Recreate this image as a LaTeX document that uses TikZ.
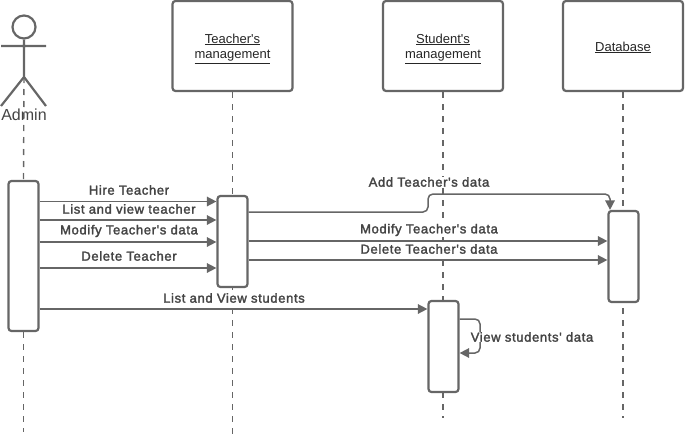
\documentclass[tikz,border=0pt]{standalone}
\usepackage{fontspec}
\setmainfont{Liberation Sans}
\newfontfamily\lab[LetterSpace=5,FakeBold=2]{Liberation Sans}
\newfontfamily\boxf{Liberation Sans}
\usetikzlibrary{arrows.meta,backgrounds}
\definecolor{ln}{HTML}{666666}
\definecolor{tx}{HTML}{444444}
\tikzset{
  x=1pt,y=-1pt,
  lifebox/.style={draw=ln,line width=2.2pt,rounded corners=3pt,fill=white,minimum width=120pt,minimum height=90pt,inner sep=0,align=center,font=\boxf\fontsize{13}{15.5}\selectfont,text=black!85},
  actbox/.style={draw=ln,line width=2.2pt,rounded corners=3pt,fill=white,minimum width=30pt,inner sep=0},
  msg/.style={draw=ln,line width=1.5pt,-{Triangle[length=9.5pt,width=9.5pt]},rounded corners=5pt},
  lifeline/.style={draw=ln,line width=1.4pt,dash pattern=on 6pt off 6pt},
  actor/.style={draw=ln,line width=2.2pt},
  lbl/.style={fill=white,inner sep=0.5pt,text=tx,font=\lab\fontsize{13}{15}\selectfont},
}
\begin{document}
\begin{tikzpicture}
\useasboundingbox (0,0) rectangle (685,439);
% actor
\node[actor,circle,minimum size=23pt,inner sep=0] (head) at (24,27) {};
\coordinate (hip) at (24,77);
\coordinate (armL) at (1,46);
\coordinate (armR) at (46,46);
\coordinate (legL) at (1,106);
\coordinate (legR) at (46,106);
\draw[actor] (head.south) -- (hip) (armL) -- (armR) (legL) -- (hip) -- (legR);
\node[text=tx,font=\fontsize{16}{18}\selectfont,inner sep=0] (admin) at (24,115) {Admin};
% boxes
\node[lifebox] (teacher) at (232.5,46) {};
\node[lifebox] (student) at (443,46) {};
\node[lifebox] (database) at (623,46) {};
\node[lifebox,draw=none,fill=none,minimum height=0pt,minimum width=0pt] (tT) at (232.5,48.5) {\underline{Teacher's}\\\underline{management}};
\node[lifebox,draw=none,fill=none,minimum height=0pt,minimum width=0pt] (tS) at (443,48.5) {\underline{Student's}\\\underline{management}};
\node[lifebox,draw=none,fill=none,minimum height=0pt,minimum width=0pt] (tD) at (623,47.5) {\underline{Database}};
% activations
\node[actbox,minimum height=150pt] (aAdmin) at (23.5,256) {};
\node[actbox,minimum height=91pt] (aTeacher) at (232.5,241.5) {};
\node[actbox,minimum height=91pt] (aStudent) at (443.5,346.5) {};
\node[actbox,minimum height=91pt] (aData) at (623.5,256.5) {};
% lifelines
\coordinate (endA) at (23.5,432);
\coordinate (endT) at (232.5,437);
\coordinate (endS) at (443,418);
\coordinate (endD) at (623,418);
\begin{scope}[on background layer]
\draw[lifeline] (hip) -- (aAdmin.north);
\draw[lifeline] (aAdmin.south) -- (endA);
\draw[lifeline] (teacher.south) -- (endT);
\draw[lifeline] (student.south) -- (endS);
\draw[lifeline] (database.south) -- (endD);
\end{scope}
% messages to teacher
\draw[msg] (aAdmin.east |- 0,201.5) -- (aTeacher.west |- 0,201.5);
\draw[msg] (aAdmin.east |- 0,220) -- (aTeacher.west |- 0,220);
\draw[msg] (aAdmin.east |- 0,242) -- (aTeacher.west |- 0,242);
\draw[msg] (aAdmin.east |- 0,268) -- (aTeacher.west |- 0,268);
\draw[msg] (aAdmin.east |- 0,309) -- (aStudent.west |- 0,309);
% messages to database
\draw[msg] (aTeacher.east |- 0,212) -- (428,212) -- (428,194) -- (610,194) -- (aData.north -| 610,0);
\draw[msg] (aTeacher.east |- 0,241) -- (aData.west |- 0,241);
\draw[msg] (aTeacher.east |- 0,260) -- (aData.west |- 0,260);
% self
\draw[msg] (aStudent.east |- 0,319) -- (480,319) -- (480,353) -- (aStudent.east |- 0,353);
% labels
\node[lbl] (l1) at (129,190) {Hire Teacher};
\node[lbl] (l2) at (129,209) {List and view teacher};
\node[lbl] (l3) at (129,231) {Modify Teacher's data};
\node[lbl] (l4) at (129,256) {Delete Teacher};
\node[lbl] (l5) at (234,298) {List and View students};
\node[lbl] (l6) at (429,182) {Add Teacher's data};
\node[lbl] (l7) at (429,230) {Modify Teacher's data};
\node[lbl] (l8) at (429,249) {Delete Teacher's data};
\node[lbl] (l9) at (532,337) {View students' data};
\end{tikzpicture}
\end{document}
